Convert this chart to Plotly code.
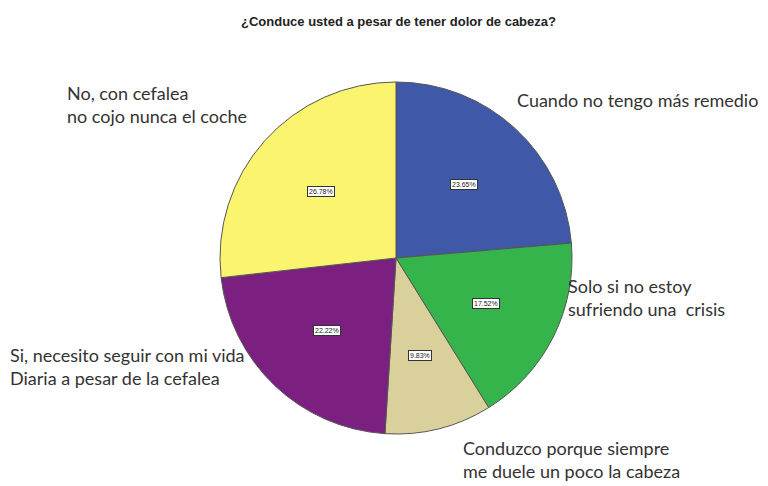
import math
import plotly.graph_objects as go

categories = ["Cuando no tengo más remedio", "Solo si no estoy sufriendo una crisis",
              "Conduzco porque siempre me duele un poco la cabeza",
              "Si, necesito seguir con mi vida Diaria a pesar de la cefalea",
              "No, con cefalea no cojo nunca el coche"]
values = [23.65, 17.52, 9.83, 22.22, 26.78]
colors = ["#3F58A8", "#35B44B", "#D9D09C", "#7B2080", "#FBF46E"]
outside_labels = ["Cuando no tengo más remedio",
                  "Solo si no estoy<br>sufriendo una  crisis",
                  "Conduzco porque siempre<br>me duele un poco la cabeza",
                  "Si, necesito seguir con mi vida<br>Diaria a pesar de la cefalea",
                  "No, con cefalea<br>no cojo nunca el coche"]
label_pos = [(515, 100), (566, 297), (461, 459), (8, 366), (65, 104)]

W, H = 768, 486
OFF = 8  # page body margin
cx, cy, R = 396, 258, 176


def fx(x):
    return (x - OFF) / W


def fy(y):
    return 1 - (y - OFF) / H


fig = go.Figure(go.Pie(
    labels=categories, values=values, sort=False, direction="clockwise", rotation=0,
    marker=dict(colors=colors, line=dict(color="#555555", width=1)),
    textinfo="none", hoverinfo="label+percent", showlegend=False,
    domain=dict(x=[fx(cx - R), fx(cx + R)], y=[fy(cy + R), fy(cy - R)]),
))

annotations = []
total = sum(values)
cum = 0
for v in values:
    mid = (cum + v / 2) / total * 2 * math.pi
    cum += v
    r = 0.57 * R
    px = cx + r * math.sin(mid)
    py = cy - r * math.cos(mid)
    annotations.append(dict(x=fx(px), y=fy(py), xref="paper", yref="paper",
                            text=f"{v:.2f}%", showarrow=False, yanchor="middle",
                            font=dict(size=7, color="#222", family="Arial"),
                            bgcolor="white", bordercolor="#333", borderwidth=1, borderpad=1))

for txt, (x, y) in zip(outside_labels, label_pos):
    annotations.append(dict(x=fx(x), y=fy(y), xref="paper", yref="paper", text=txt,
                            showarrow=False, xanchor="left", yanchor="middle", align="left",
                            font=dict(size=18, color="#333", family="Lato")))

annotations.append(dict(x=fx(398), y=fy(22), xref="paper", yref="paper",
                        text="<b>¿Conduce usted a pesar de tener dolor de cabeza?</b>",
                        showarrow=False, yanchor="middle",
                        font=dict(size=13, color="#222", family="Arial")))

fig.update_layout(width=W, height=H, margin=dict(l=0, r=0, t=0, b=0),
                  paper_bgcolor="white", plot_bgcolor="white", annotations=annotations)
fig.write_html("out.html")
